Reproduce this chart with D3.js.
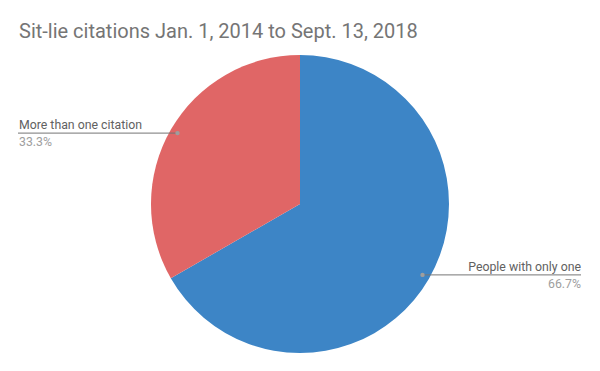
<!DOCTYPE html>
<html>
<head>
<meta charset="utf-8">
<script src="https://cdn.jsdelivr.net/npm/d3@7"></script>
<style>
  body { margin: 0; background: #fff; }
  text { font-family: Roboto, sans-serif; }
</style>
</head>
<body>
<script>
  const categories = ["People with only one", "More than one citation"];
  const values = [66.7, 33.3];
  const colors = ["#3d85c6", "#e06666"];

  const width = 600;
  const height = 371;
  const cx = 300, cy = 204, radius = 149;

  const svg = d3
    .select("body")
    .append("svg")
    .attr("width", width)
    .attr("height", height);

  svg
    .append("text")
    .attr("x", 19)
    .attr("y", 38)
    .attr("font-size", "20px")
    .attr("fill", "#757575")
    .text("Sit-lie citations Jan. 1, 2014 to Sept. 13, 2018");

  const pie = d3.pie().sort(null).value((d) => d);
  const arcs = pie(values);
  const arc = d3.arc().innerRadius(0).outerRadius(radius);
  const anchorArc = d3.arc().innerRadius(radius * 0.95).outerRadius(radius * 0.95);

  const g = svg.append("g").attr("transform", `translate(${cx},${cy})`);

  g.selectAll(".slice")
    .data(arcs)
    .enter()
    .append("path")
    .attr("class", "slice")
    .attr("d", arc)
    .attr("fill", (d, i) => colors[i]);

  // labels: right side for slices whose middle is on the right
  arcs.forEach((d, i) => {
    const [ax, ay] = anchorArc.centroid(d);
    const px = cx + ax, py = cy + ay;
    const right = ax > 0;
    const endX = right ? 581 : 18;

    svg.append("line")
      .attr("x1", px).attr("y1", py)
      .attr("x2", endX).attr("y2", py)
      .attr("stroke", "#757575")
      .attr("stroke-width", 1);

    svg.append("circle")
      .attr("cx", px).attr("cy", py)
      .attr("r", 2.2)
      .attr("fill", "#9e9e9e");

    svg.append("text")
      .attr("x", right ? 581 : 19)
      .attr("y", py - 4)
      .attr("text-anchor", right ? "end" : "start")
      .attr("font-size", "12.3px")
      .attr("fill", "#616161")
      .text(categories[i]);

    svg.append("text")
      .attr("x", right ? 581 : 19)
      .attr("y", py + 13)
      .attr("text-anchor", right ? "end" : "start")
      .attr("font-size", "12.3px")
      .attr("fill", "#9e9e9e")
      .text(values[i].toFixed(1) + "%");
  });
</script>
</body>
</html>
